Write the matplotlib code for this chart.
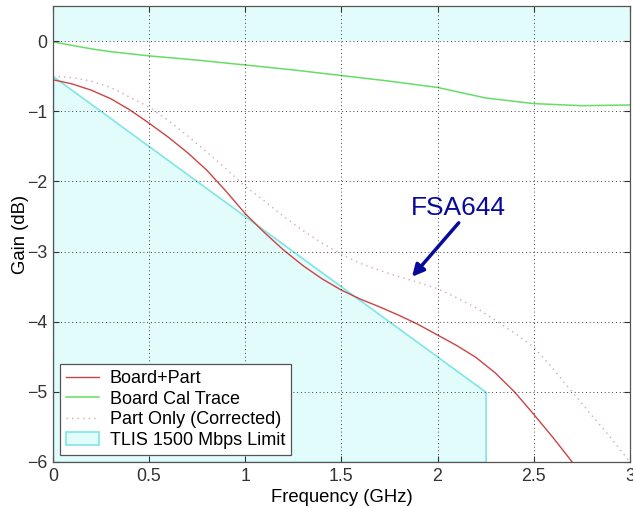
import numpy as np
import matplotlib
matplotlib.use("Agg")
import matplotlib.pyplot as plt

# DATA
freq_bp = [0, 0.1, 0.2, 0.3, 0.4, 0.5, 0.6, 0.7, 0.8, 0.9, 1.0, 1.1, 1.2, 1.3, 1.4,
           1.5, 1.6, 1.7, 1.8, 1.9, 2.0, 2.1, 2.2, 2.3, 2.4, 2.5, 2.6, 2.7, 2.8]
gain_bp = [-0.55, -0.61, -0.70, -0.82, -0.98, -1.17, -1.37, -1.59, -1.84, -2.14, -2.46,
           -2.73, -2.98, -3.20, -3.39, -3.55, -3.68, -3.79, -3.91, -4.04, -4.19, -4.34,
           -4.51, -4.73, -5.00, -5.32, -5.65, -6.00, -6.35]

freq_cal = [0, 0.1, 0.2, 0.3, 0.4, 0.5, 0.75, 1.0, 1.25, 1.5, 1.75, 2.0, 2.25, 2.5, 2.75, 3.0]
gain_cal = [-0.01, -0.06, -0.11, -0.15, -0.18, -0.21, -0.27, -0.34, -0.41, -0.49, -0.57,
            -0.66, -0.81, -0.89, -0.92, -0.91]

freq_part = [0, 0.1, 0.2, 0.3, 0.4, 0.5, 0.6, 0.7, 0.8, 0.9, 1.0, 1.1, 1.2, 1.3, 1.4,
             1.5, 1.6, 1.7, 1.8, 1.9, 2.0, 2.1, 2.2, 2.3, 2.4, 2.5, 2.6, 2.7, 2.8, 2.9, 3.0]
gain_part = [-0.50, -0.52, -0.57, -0.66, -0.80, -0.94, -1.13, -1.35, -1.58, -1.82, -2.07,
             -2.28, -2.50, -2.70, -2.88, -3.04, -3.17, -3.27, -3.36, -3.44, -3.53, -3.66,
             -3.80, -3.98, -4.16, -4.36, -4.67, -5.00, -5.33, -5.65, -6.00]

# TLIS 1500 Mbps limit line
freq_lim = [0, 2.25]
gain_lim = [-0.5, -5.0]

labels = ["Board+Part", "Board Cal Trace", "Part Only (Corrected)", "TLIS 1500 Mbps Limit"]
x_ticks = [0, 0.5, 1, 1.5, 2, 2.5, 3]
x_tick_labels = ["0", "0.5", "1", "1.5", "2", "2.5", "3"]
y_ticks = [-6, -5, -4, -3, -2, -1, 0]

# PLOT
plt.rcParams['font.family'] = ['Liberation Sans', 'DejaVu Sans']
fig = plt.figure(figsize=(6.33, 5.08), dpi=100)
ax = fig.add_axes([0.0837, 0.0906, 0.9113, 0.8974])

y_bot, y_top = -6, 0.5
fill_face = "#e2fbfb"
fill_edge = "#7fe6e6"

# shaded region: top strip and area below the limit line
ax.axhspan(0, y_top, facecolor=fill_face, edgecolor="none", zorder=0)
lim = ax.fill_between(freq_lim, gain_lim, y_bot, facecolor=fill_face,
                      edgecolor=fill_edge, linewidth=1.2, zorder=0.5, label=labels[3])

l1, = ax.plot(freq_bp, gain_bp, "-", color="#cc4444", lw=1.0, label=labels[0])
l2, = ax.plot(freq_cal, gain_cal, "-", color="#66dd66", lw=1.1, label=labels[1])
l3, = ax.plot(freq_part, gain_part, color="#d2aaaa", lw=1.0, linestyle=(0, (1, 3)),
              label=labels[2])

ax.set_xlim(0, 3)
ax.set_ylim(y_bot, y_top)
ax.set_xticks(x_ticks)
ax.set_xticklabels(x_tick_labels)
ax.set_yticks(y_ticks)
ax.grid(True, color="black", linestyle=(0, (1, 3.5)), linewidth=0.6)
ax.set_axisbelow(False)
ax.tick_params(direction="in", length=4, labelsize=12.8, colors="#333333",
               top=True, right=True, pad=4)
for s in ax.spines.values():
    s.set_color("#555555")
    s.set_linewidth(0.9)
    s.set_zorder(3)

ax.set_xlabel("Frequency (GHz)", fontsize=13.3, labelpad=3)
ax.set_ylabel("Gain (dB)", fontsize=13.3, labelpad=-1)

# FSA644 annotation
ax.annotate("", xy=(1.867, -3.36), xytext=(2.11, -2.59),
            arrowprops=dict(arrowstyle="-|>,head_length=0.7,head_width=0.35",
                            color="#0a0a9a", lw=2.5, shrinkA=0, shrinkB=0))
ax.text(2.106, -2.38, "FSA644", color="#0a0a9a", fontsize=19, ha="center", va="center")

leg = ax.legend(handles=[l1, l2, l3, lim], labels=labels, loc="lower left",
                bbox_to_anchor=(0.012, 0.015), borderaxespad=0, fontsize=13,
                fancybox=False, framealpha=1, edgecolor="#555555",
                handlelength=1.8, labelspacing=0.2, borderpad=0.35, handletextpad=0.6)
leg.get_frame().set_linewidth(0.9)

fig.savefig("out.png", dpi=100)
